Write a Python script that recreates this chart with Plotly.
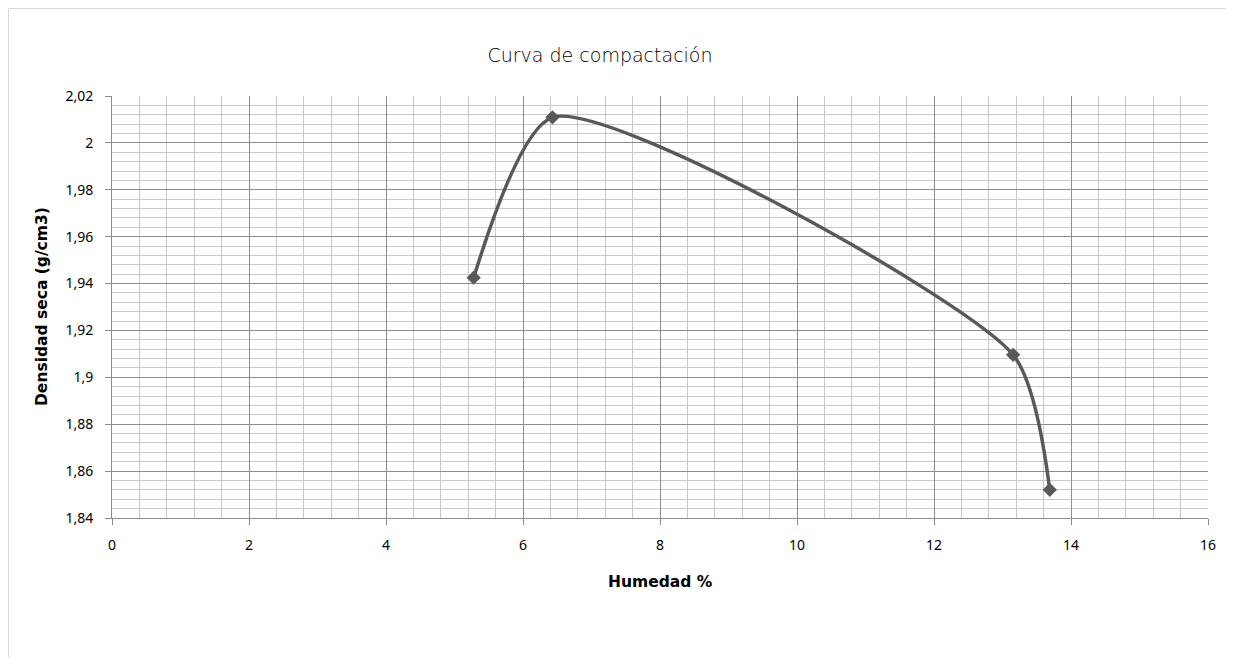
import plotly.graph_objects as go

humedad = [5.28, 6.43, 13.155, 13.69]
densidad = [1.9425, 2.0109, 1.9096, 1.852]

x_tickvals = [0, 2, 4, 6, 8, 10, 12, 14, 16]
x_ticktext = ["0", "2", "4", "6", "8", "10", "12", "14", "16"]
y_tickvals = [1.84, 1.86, 1.88, 1.90, 1.92, 1.94, 1.96, 1.98, 2.00, 2.02]
y_ticktext = ["1,84", "1,86", "1,88", "1,9", "1,92", "1,94", "1,96", "1,98", "2", "2,02"]

title_text = "Curva de compactación"
x_title = "Humedad %"
y_title = "Densidad seca (g/cm3)"

line_color = "#595959"
major_grid = "#8c8c8c"
minor_grid = "#c8c8c8"
tick_font = dict(family="Noto Sans, Open Sans, sans-serif", size=14, color="#000000")
title_font = dict(family="DejaVu Sans, sans-serif", size=19, color="#000000", weight=200)
axis_title_font = dict(family="DejaVu Sans, sans-serif", size=15.5, color="#000000")

# page has an 8px body margin; figure origin is at page (8, 8)
W, H = 1226, 649
L, R, T, B = 104, 26, 88, 139
pw = W - L - R
ph = H - T - B

fig = go.Figure()
fig.add_trace(go.Scatter(
    x=humedad, y=densidad, mode="lines+markers",
    line=dict(color=line_color, width=3.5, shape="spline", smoothing=0.65),
    marker=dict(symbol="diamond", size=11, color=line_color),
    showlegend=False, hoverinfo="x+y",
))

fig.update_layout(
    width=W, height=H,
    margin=dict(l=L, r=R, t=T, b=B, pad=0),
    paper_bgcolor="white", plot_bgcolor="white",
    separators=",.",
    title=dict(text=title_text, x=592 / W, xanchor="center", y=1 - 47 / H, yanchor="middle",
               xref="container", yref="container", font=title_font),
    xaxis=dict(
        range=[0, 16], tickvals=x_tickvals, ticktext=x_ticktext,
        showgrid=True, gridcolor=major_grid, gridwidth=1,
        minor=dict(dtick=0.4, tick0=0, showgrid=True, gridcolor=minor_grid, gridwidth=1, ticks=""),
        zeroline=False, showline=True, linecolor=major_grid, linewidth=1,
        ticks="outside", ticklen=6, tickcolor=major_grid, tickfont=tick_font,
        ticklabelstandoff=8,
    ),
    yaxis=dict(
        range=[1.84, 2.02], tickvals=y_tickvals, ticktext=y_ticktext,
        showgrid=True, gridcolor=major_grid, gridwidth=1,
        minor=dict(dtick=0.004, tick0=1.84, showgrid=True, gridcolor=minor_grid, gridwidth=1, ticks=""),
        zeroline=False, showline=True, linecolor=major_grid, linewidth=1,
        ticks="outside", ticklen=6, tickcolor=major_grid, tickfont=tick_font,
        ticklabelstandoff=9,
    ),
    annotations=[
        dict(text="<b>" + x_title + "</b>", xref="paper", yref="paper",
             x=(652 - L) / pw, y=(H - B - 574) / ph, xanchor="center", yanchor="middle",
             showarrow=False, font=axis_title_font),
        dict(text="<b>" + y_title + "</b>", xref="paper", yref="paper",
             x=(34 - L) / pw, y=(H - B - 299) / ph, xanchor="center", yanchor="middle",
             textangle=-90, showarrow=False, font=axis_title_font),
    ],
)

# outer chart-area border
fig.add_shape(type="rect", xref="paper", yref="paper",
              x0=(0.5 - L) / pw, x1=(W + 10 - L) / pw,
              y0=(H - B - (H + 10)) / ph, y1=(H - B - 0.5) / ph,
              line=dict(color="#d9d9d9", width=1), fillcolor="rgba(0,0,0,0)", layer="below")

fig.write_html("out.html")
